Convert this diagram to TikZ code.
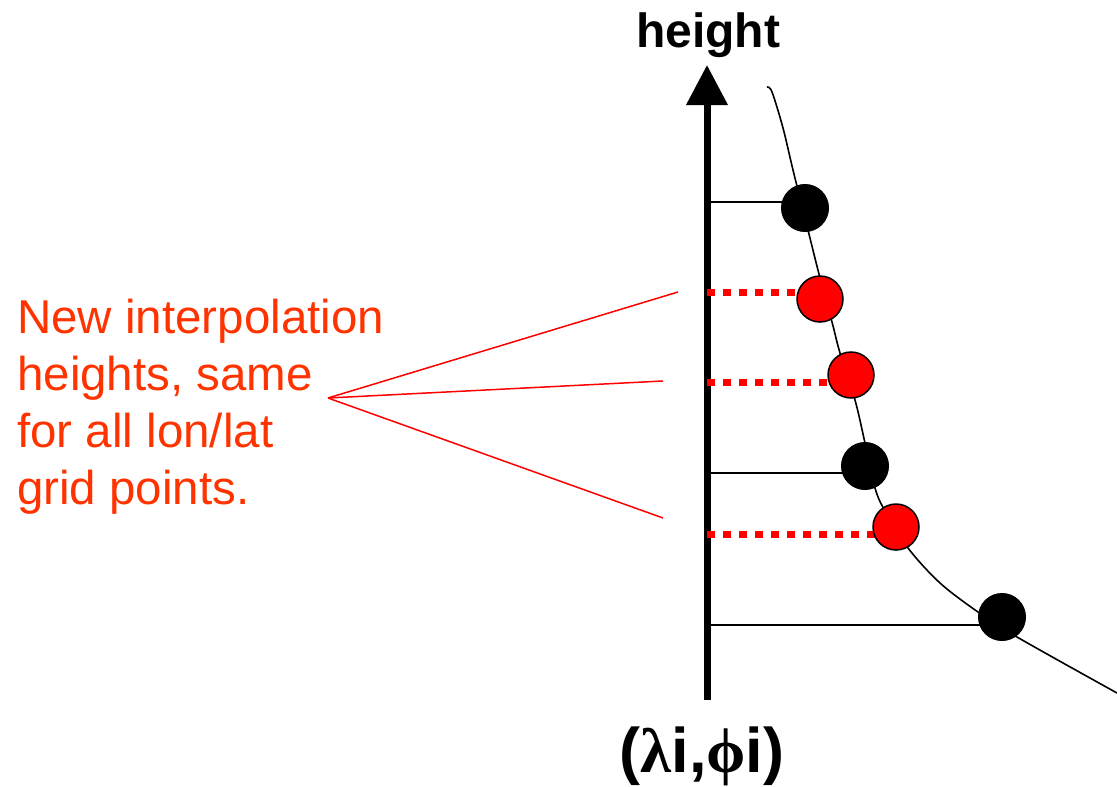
\documentclass[tikz,border=0pt]{standalone}
\usepackage{fontspec}
\setmainfont{Liberation Sans}
\newfontfamily\greekfont{Liberation Serif}
\usetikzlibrary{arrows.meta}
\definecolor{annot}{HTML}{FF3300}
\begin{document}
\begin{tikzpicture}[x=1pt,y=-1pt,
  blackdot/.style={circle,fill=black,draw=black,line width=1pt,minimum size=47pt,inner sep=0pt},
  reddot/.style={circle,fill=red,draw=black,line width=1.5pt,minimum size=46pt,inner sep=0pt},
  level/.style={line width=1.5pt},
  newlevel/.style={red,line width=7pt,dash pattern=on 8pt off 8pt},
  pointer/.style={red,line width=1.5pt},
  curve/.style={line width=1.6pt},
  axisline/.style={line width=7pt,-{Triangle[length=40pt,width=40pt]}},
]
\useasboundingbox (0,0) rectangle (1117,787);

% positions
\coordinate (B1) at (805,208);
\coordinate (R1) at (820,299);
\coordinate (R2) at (851,375);
\coordinate (B2) at (865,466);
\coordinate (R3) at (896,527);
\coordinate (B3) at (1002,617);

\coordinate (A0) at (707,700);
\coordinate (A1) at (707,65);

\coordinate (L1) at (710,202);
\coordinate (L2) at (710,473);
\coordinate (L3) at (710,625);
\coordinate (D1) at (707,292);
\coordinate (D2) at (707,382);
\coordinate (D3) at (707,534);

% profile curve
\draw[curve] plot[smooth,tension=0.55] coordinates {(767,87) (772,92) (783,128) (793,170) (806,222) (820,278) (832,322) (840,353) (855,400) (865,443) (875,488) (885,511) (908,548) (940,583) (978,612) (1017,637) (1117,693)};

% original model levels
\draw[level] (L1) -- (B1 |- L1);
\draw[level] (L2) -- (B2 |- L2);
\draw[level] (L3) -- (B3 |- L3);

% height axis
\draw[axisline] (A0) -- (A1);

% new interpolation heights
\draw[newlevel] (D1) -- (R1 |- D1);
\draw[newlevel] (D2) -- (R2 |- D2);
\draw[newlevel] (D3) -- (R3 |- D3);

% dots
\node[blackdot] (b1) at (B1) {};
\node[blackdot] (b2) at (B2) {};
\node[blackdot] (b3) at (B3) {};
\node[reddot] (r1) at (R1) {};
\node[reddot] (r2) at (R2) {};
\node[reddot] (r3) at (R3) {};

% labels
\node[anchor=base,inner sep=0pt,font=\fontsize{48}{48}\selectfont\bfseries] (ylabel) at (708,47) {height};
\node[anchor=base,inner sep=0pt,font=\fontsize{63}{63}\selectfont\bfseries] (xlabel) at (702,772) {({\greekfont λ}i,{\greekfont ϕ}i)};

\node[anchor=north west,inner sep=0pt,align=left,text=annot,font=\fontsize{47.5}{57}\selectfont] (note) at (17,299) {New interpolation\\heights, same\\for all lon/lat\\grid points.};

% pointer lines
\coordinate (apex) at (328,398);
\coordinate (P1) at (678,292);
\coordinate (P2) at (663,381);
\coordinate (P3) at (663,518);
\draw[pointer] (apex) -- (P1);
\draw[pointer] (apex) -- (P2);
\draw[pointer] (apex) -- (P3);
\end{tikzpicture}
\end{document}
